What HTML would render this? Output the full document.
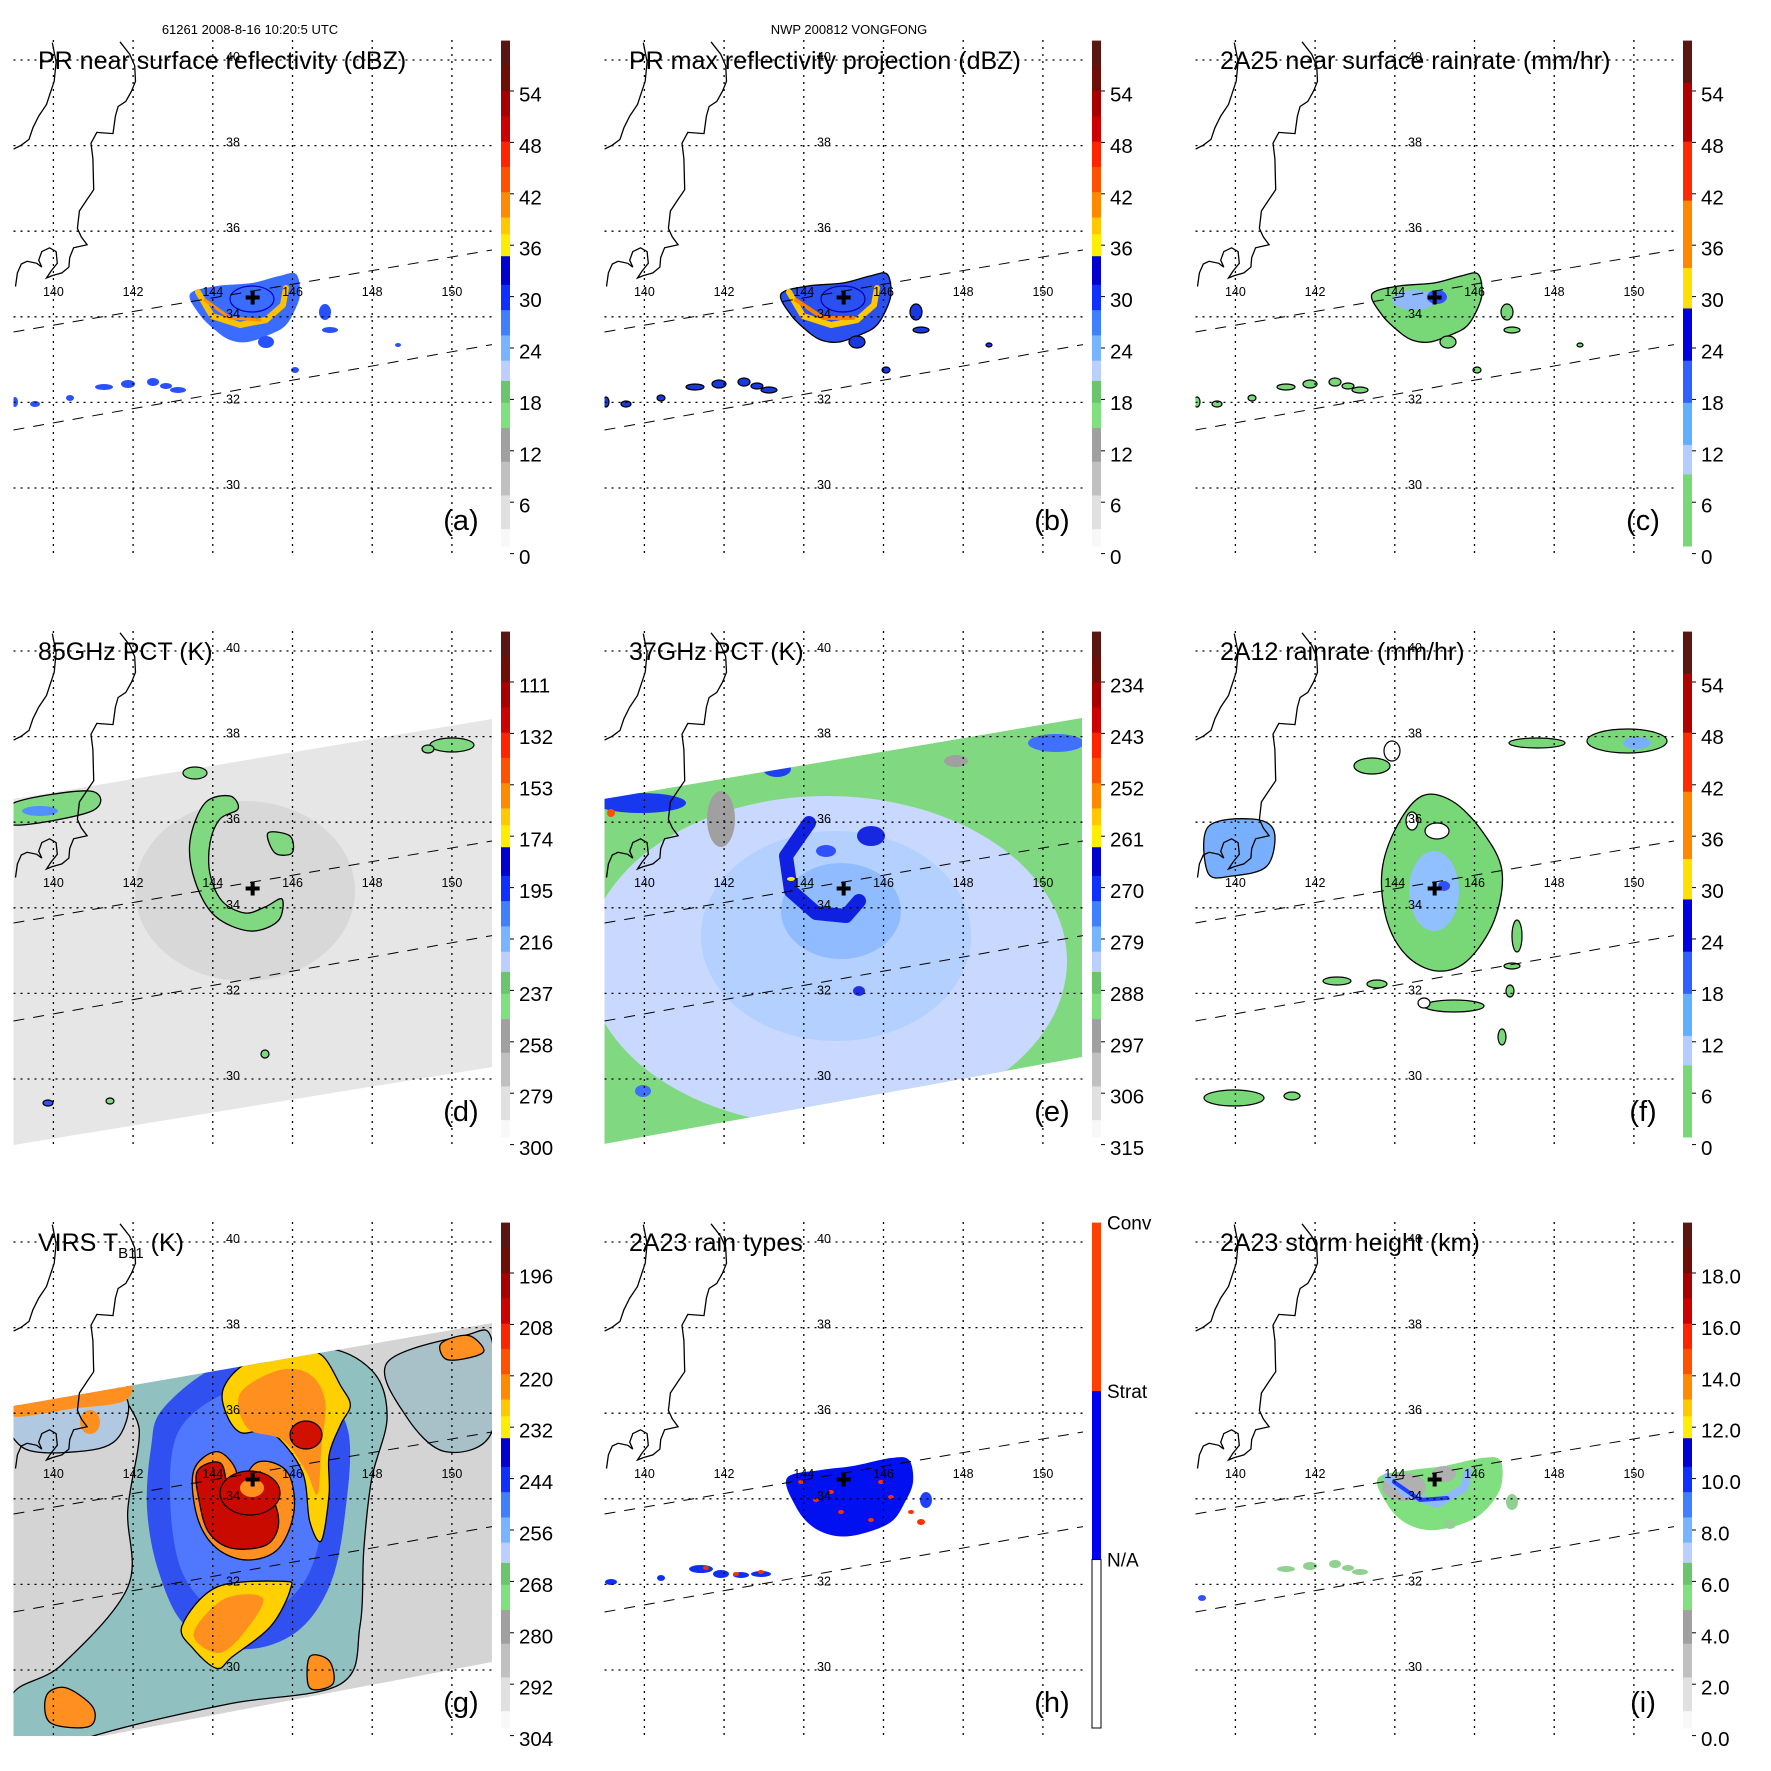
<!DOCTYPE html>
<html><head><meta charset="utf-8"><style>
html,body{margin:0;padding:0;background:#fff;}
svg{display:block;font-family:"Liberation Sans",Arial,sans-serif;}
</style></head><body>
<svg id="fig" width="1771" height="1771" viewBox="0 0 1771 1771" xmlns="http://www.w3.org/2000/svg"></svg>
<script>
// ---- data arrays ----
const panelTitles = ["PR near surface reflectivity (dBZ)","PR max reflectivity projection (dBZ)","2A25 near surface rainrate (mm/hr)","85GHz PCT (K)","37GHz PCT (K)","2A12 rainrate (mm/hr)","VIRS","2A23 rain types","2A23 storm height (km)"];
const panelLetters = ["(a)","(b)","(c)","(d)","(e)","(f)","(g)","(h)","(i)"];
const ticksA = ["0","6","12","18","24","30","36","42","48","54"];
const ticksD = ["300","279","258","237","216","195","174","153","132","111"];
const ticksE = ["315","306","297","288","279","270","261","252","243","234"];
const ticksG = ["304","292","280","268","256","244","232","220","208","196"];
const ticksI = ["0.0","2.0","4.0","6.0","8.0","10.0","12.0","14.0","16.0","18.0"];
const ticksH = ["N/A","Strat","Conv"];
const lonTicks = [140,142,144,146,148,150];
const latTicks = [40,38,36,34,32,30];
const cmapA = [[57,60,'#5a1610'],[54,57,'#6e0e08'],[51,54,'#a80000'],[48,51,'#cc0000'],[45,48,'#ff2400'],[42,45,'#ff5200'],[39,42,'#ff8a00'],[37,39,'#ffc800'],[34.4,37,'#ffee00'],[31,34.4,'#0000d0'],[28,31,'#1030ff'],[25,28,'#4080ff'],[22,25,'#78b4ff'],[19.6,22,'#bcd0ff'],[17,19.6,'#6cc46c'],[14,17,'#80e080'],[10,14,'#a0a0a0'],[6,10,'#c0c0c0'],[2,6,'#e0e0e0'],[0,2,'#f8f8f8']];
const cmapC = [[55,60,'#5a1610'],[48,55,'#b00000'],[41,48,'#ff2a00'],[33,41,'#ff8800'],[28.2,33,'#ffe000'],[22,28.2,'#0000e0'],[17,22,'#3060ff'],[12,17,'#60b0ff'],[8.5,12,'#b4ccff'],[0,8.5,'#78d878']];

const NS="http://www.w3.org/2000/svg";
const svg=document.getElementById('fig');
function el(tag,attrs,parent){const e=document.createElementNS(NS,tag);for(const k in attrs)e.setAttribute(k,attrs[k]);(parent||svg).appendChild(e);return e;}
function txt(s,attrs,parent){const e=el('text',attrs,parent);e.textContent=s;return e;}
const X=lon=>53.4+(lon-140)*39.85;
const Y=lat=>488-(lat-30)*42.8;
const BT=40.6,BB=546;
const vy=v=>BB-v*(BB-BT)/60;
function smooth(pts){let d='M'+pts[0][0]+','+pts[0][1];const n=pts.length;
 for(let i=0;i<n;i++){const p0=pts[(i-1+n)%n],p1=pts[i],p2=pts[(i+1)%n],p3=pts[(i+2)%n];
  d+=' C'+(p1[0]+(p2[0]-p0[0])/6).toFixed(1)+','+(p1[1]+(p2[1]-p0[1])/6).toFixed(1)+' '+(p2[0]-(p3[0]-p1[0])/6).toFixed(1)+','+(p2[1]-(p3[1]-p1[1])/6).toFixed(1)+' '+p2[0]+','+p2[1];}
 return d+'Z';}
function blob(g,pts,fill,stroke,name,sw){const p=el('path',{d:smooth(pts),fill:fill,stroke:stroke||'none','stroke-width':sw||1.3},g);

return p;}
function ell(g,cx,cy,rx,ry,fill,stroke,name){const e=el('ellipse',{cx:cx,cy:cy,rx:rx,ry:ry,fill:fill,stroke:stroke||'none','stroke-width':1.2},g);

return e;}
function line(g,pts,stroke,w,name){const p=el('path',{d:'M'+pts.map(p=>p.join(',')).join(' L'),fill:'none',stroke:stroke,'stroke-width':w,'stroke-linecap':'round','stroke-linejoin':'round'},g);

return p;}
const Z=(pts)=>pts.map(p=>[+(p[0]/2.583).toFixed(1),+(p[1]/2.583).toFixed(1)]);
const ZG=(pts)=>pts.map(p=>[+(p[0]/2.583).toFixed(1),+(p[1]/2.583+18).toFixed(1)]);

const coastA=Z([[135,110],[145,160],[140,210],[130,240],[120,270],[100,300],[85,330],[75,360],[55,375],[35,385]]);
const coastB=Z([[310,108],[335,140],[348,170],[350,210],[340,235],[325,262],[305,275],[298,300],[292,345],[250,342],[235,370],[240,410],[242,490],[225,515],[205,545],[200,590],[210,612],[225,632],[190,640],[180,665],[178,690],[160,705],[135,712],[120,718],[132,700],[148,680],[145,650],[128,640],[108,650],[100,672],[108,690],[95,680],[70,675],[55,682],[45,705],[40,740]]);
const swathTop=[[13.5,332],[492,250]],swathBot=[[13.5,430],[492,344.6]];
const cx0=X(145),cy0=Y(34.45);

function stormCore(g,base,stroke,ring,inner){
 blob(g,[[190,294],[217,286],[252,283],[279,276],[296,274],[300,294],[294,312],[285,326],[271,334],[248,342],[230,340],[215,330],[200,315]],base,stroke,'storm-rain-area');
 if(ring)line(g,[[198,292],[212,316],[240,325],[266,320],[283,305],[286,288]],ring,6,'ring-band');
 if(inner)ell(g,252,299,22,13,'none',inner,'eyewall');
}
function bottomBand(g,fill,stroke){
 const pts=[[104,387,9,3],[128,384,7,4],[153,382,6,4],[166,386,6,3],[178,390,8,3],[15,402,3,5],[35,404,5,3],[70,398,4,3],[266,342,8,6],[325,312,6,8],[330,330,8,3],[295,370,4,3],[398,345,3,2]];
 pts.forEach(p=>ell(g,p[0],p[1],p[2],p[3],fill,stroke,'small-rain-cell'));
}

const drawers=[
 g=>{stormCore(g,'#3a6cff',null,'#ffc000','#0000c8');line(g,[[205,300],[230,318],[260,320]],'#ff9000',3,'ring-core');bottomBand(g,'#2850ff');},
 g=>{stormCore(g,'#2a50f0','#000','#ffc800','#0000b0');line(g,[[205,300],[232,318],[262,318]],'#ff8000',4,'ring-core');bottomBand(g,'#1838e0','#000');},
 g=>{stormCore(g,'#78d878','#000',null,null);ell(g,232,300,22,10,'#90b8ff','none','rain-core');ell(g,255,297,10,7,'#3050ff','none','rain-core');bottomBand(g,'#78d878','#000');},
 g=>{const sw=el('path',{d:'M13.5,208 L492,128 L492,476 L13.5,554Z',fill:'#e6e6e6'},g);
  
  ell(g,245,300,110,90,'#d8d8d8','none','cold-area');
  blob(g,[[230,205],[205,212],[190,250],[195,290],[215,325],[250,340],[278,330],[282,308],[265,316],[245,322],[222,310],[210,283],[210,252],[220,228],[238,218]],'#80d880','#000');
  blob(g,[[268,242],[290,245],[292,262],[275,262]],'#80d880','#000');
  blob(g,[[13.5,212],[90,200],[92,220],[13.5,234]],'#80d880','#000');ell(g,40,220,18,5,'#5090ff','none');
  ell(g,195,182,12,6,'#80d880','#000');ell(g,452,154,22,7,'#80d880','#000');ell(g,428,158,6,4,'#80d880','#000');
  ell(g,48,512,5,3,'#3050ff','#000');ell(g,110,510,4,3,'#80d880','#000');ell(g,265,463,4,4,'#80d880','#000');},
 g=>{const sw=el('path',{d:'M13,208 L491,127 L491,466 L13,553Z',fill:'#80d880'},g);
  
  const cp=el('clipPath',{id:'swE'},g);el('path',{d:'M13,208 L491,127 L491,466 L13,553Z'},cp);
  const h=el('g',{'clip-path':'url(#swE)'},g);
  ell(h,236,370,240,165,'#c8d8ff');ell(h,245,345,135,105,'#b4d0ff');ell(h,250,320,60,48,'#90bcff');
  line(h,[[218,232],[195,265],[200,300],[225,322],[255,325],[268,310]],'#1020e0',14,'warm-ring');
  ell(h,280,245,14,10,'#1828e0');ell(h,235,260,10,6,'#3050ff');ell(h,268,400,6,5,'#2030e0');
  ell(h,130,228,14,28,'#a0a0a0');ell(h,365,170,12,6,'#a0a0a0');
  ell(h,50,212,45,10,'#1838f0');ell(h,186,178,14,8,'#2040f0');ell(h,465,152,28,9,'#4070ff');ell(h,20,222,4,4,'#ff5000');
  ell(h,52,500,8,6,'#4070ff');ell(h,200,288,4,2,'#ffee00');},
 g=>{blob(g,[[240,205],[270,210],[300,240],[320,280],[312,330],[285,370],[255,380],[225,365],[205,330],[200,280],[215,235]],'#78d878','#000');
  ell(g,252,300,25,40,'#90c0ff');ell(g,262,295,6,5,'#3050ff');ell(g,255,240,12,8,'#fff','#000');ell(g,230,230,6,9,'#fff','#000');
  blob(g,[[26,236],[70,228],[92,240],[85,275],[50,285],[26,282]],'#78b0ff','#000');
  ell(g,210,160,8,10,'#fff','#000');ell(g,190,175,18,8,'#78d878','#000');
  ell(g,355,152,28,5,'#78d878','#000');ell(g,445,150,40,12,'#78d878','#000');ell(g,455,152,14,6,'#78b0ff');
  ell(g,335,345,5,16,'#78d878','#000');ell(g,330,375,8,3,'#78d878','#000');ell(g,328,400,4,6,'#78d878','#000');
  ell(g,272,415,30,6,'#78d878','#000');ell(g,242,412,6,5,'#fff','#000');ell(g,155,390,14,4,'#78d878','#000');ell(g,195,393,10,4,'#78d878','#000');
  ell(g,52,507,30,8,'#78d878','#000');ell(g,110,505,8,4,'#78d878','#000');ell(g,320,446,4,8,'#78d878','#000');},
 g=>{const sw=el('path',{d:'M13.5,224 L492,141 L492,480 L13.5,571Z',fill:'#d4d4d4'},g);
  
  const cp=el('clipPath',{id:'swG'},g);el('path',{d:'M13.5,224 L492,141 L492,480 L13.5,571Z'},cp);
  const h=el('g',{'clip-path':'url(#swG)'},g);
  blob(h,ZG([[330,480],[550,420],[820,380],[960,440],[1000,560],[960,720],[940,900],[930,1100],[880,1250],[600,1300],[330,1360],[120,1420],[30,1440],[30,1280],[160,1200],[330,1000],[330,800],[360,600]]),'#90c0c0','#000');
  blob(h,ZG([[30,540],[250,470],[330,520],[300,620],[200,650],[60,640]]),'#b0c8e0','#000');
  blob(h,ZG([[1000,420],[1200,350],[1270,360],[1270,600],[1150,650],[1050,560]]),'#a8c0c8','#000');
  blob(h,ZG([[420,540],[560,430],[700,420],[820,480],[900,600],[890,820],[850,1000],[760,1120],[620,1160],[480,1100],[410,960],[380,800],[390,640]]),'#3050f0');
  blob(h,ZG([[460,600],[580,500],[720,480],[820,560],[840,760],[800,960],[700,1060],[560,1060],[470,960],[440,780]]),'#5078ff');
  blob(h,ZG([[580,480],[640,420],[760,390],[830,400],[880,480],[905,530],[880,580],[850,660],[850,760],[830,880],[800,830],[780,700],[700,600],[620,600],[580,540]]),'#ffd000','#000');
  blob(h,ZG([[620,500],[720,440],[800,450],[840,520],[830,640],[820,760],[790,700],[730,620],[640,590]]),'#ff9020');
  blob(h,ZG([[500,700],[560,650],[610,700],[600,780],[660,680],[740,700],[760,800],[720,900],[640,930],[560,900],[510,820]]),'#ff9020','#000');
  blob(h,ZG([[510,700],[570,680],[590,760],[610,800],[690,760],[720,830],[690,890],[600,900],[540,860],[515,780]]),'#c80a00','#000');
  ell(h,250,311,30,22,'#c80a00','#000');ell(h,252,306,12,9,'#ff9020');ell(h,306,253,16,14,'#d01000','#000');
  blob(h,ZG([[470,1100],[560,1000],[730,985],[750,1005],[700,1100],[600,1180],[560,1210],[500,1160]]),'#ffd000','#000');
  blob(h,ZG([[500,1120],[580,1030],[680,1030],[620,1130],[560,1170]]),'#ff9020');
  blob(h,ZG([[40,530],[200,490],[330,470],[320,520],[180,540],[40,560]]),'#ff9020');
  blob(h,ZG([[1140,370],[1210,350],[1250,390],[1200,410],[1150,410]]),'#ff9020','#000');
  blob(h,ZG([[120,1280],[170,1260],[240,1310],[230,1360],[130,1350]]),'#ff9020','#000');
  blob(h,ZG([[800,1180],[850,1190],[860,1250],[800,1260]]),'#ff9020','#000');
  ell(h,90,240,10,12,'#ff9020');},
 g=>{blob(g,[[196,296],[230,288],[262,284],[300,276],[318,278],[322,300],[314,320],[300,340],[270,352],[245,354],[222,345],[205,325]],'#0010f0',null,'storm-rain-area');
  [[210,300],[225,318],[250,330],[290,300],[300,315],[280,338],[240,310],[320,330]].forEach(p=>ell(g,p[0],p[1],3,2,'#ff3000'));
  ell(g,335,318,6,8,'#2040ff');ell(g,330,340,4,3,'#ff3000');
  [[110,387,12,4],[130,392,8,4],[150,393,8,3],[170,392,10,3],[20,400,6,3],[70,396,4,3]].forEach(p=>ell(g,p[0],p[1],p[2],p[3],'#1030f0'));
  [[115,386],[145,392],[170,390]].forEach(p=>ell(g,p[0],p[1],3,2,'#ff3000'));},
 g=>{blob(g,[[196,296],[230,288],[262,284],[300,276],[318,278],[320,300],[312,318],[295,335],[270,345],[245,348],[222,340],[205,322]],'#80e080',null,'storm-rain-area');
  ell(g,222,305,22,14,'#b0b0b0');line(g,[[205,295],[225,312],[255,322],[282,306],[286,290]],'#90b8ff',8,'height-band');
  line(g,[[212,300],[238,318],[265,316]],'#2040ff',4,'height-core');ell(g,262,292,12,8,'#b0b0b0');
  [[104,387,9,3],[128,384,7,4],[153,382,6,4],[166,386,6,3],[178,390,8,3],[268,342,6,5],[330,320,6,8]].forEach(p=>ell(g,p[0],p[1],p[2],p[3],'#90d090'));
  ell(g,20,416,4,3,'#3050ff');}
];

const tickSets=[ticksA,ticksA,ticksA,ticksD,ticksE,ticksA,ticksG,null,ticksI];

for(let i=0;i<9;i++){
 const r=Math.floor(i/3),c=i%3;
 const P=el('g',{transform:`translate(${c*591},${r*591})`});
 
 
 const cid='clip'+i;
 const cp=el('clipPath',{id:cid},P);el('rect',{x:13.5,y:40,width:478.5,height:514},cp);
 const D=el('g',{'clip-path':`url(#${cid})`},P);
 
 
 drawers[i](D);
 [coastA,coastB].forEach(cs=>{const p=el('path',{d:'M'+cs.map(q=>q.join(',')).join(' L'),fill:'none',stroke:'#000','stroke-width':1.3},D);
  
  });
 lonTicks.forEach(lon=>{const l=el('line',{x1:X(lon),x2:X(lon),y1:40,y2:554,stroke:'#000','stroke-width':1.3,'stroke-dasharray':'2,5'},P);
  
  
  const t=txt(String(lon),{x:X(lon),y:296,'font-size':12.5,'text-anchor':'middle',fill:'#000'},P);
  
  });
 latTicks.forEach(lat=>{const l=el('line',{x1:13.5,x2:492,y1:Y(lat),y2:Y(lat),stroke:'#000','stroke-width':1.3,'stroke-dasharray':'2,5'},P);
  
  
  const t=txt(String(lat),{x:233,y:Y(lat)+1,'font-size':12.5,'text-anchor':'middle',fill:'#000'},P);
  
  });
 [swathTop,swathBot].forEach(s=>{const l=el('line',{x1:s[0][0],y1:s[0][1],x2:s[1][0],y2:s[1][1],stroke:'#000','stroke-width':1,'stroke-dasharray':'11,9'},P);
  
  });
 const cr=el('path',{d:`M${cx0-7},${cy0} h14 M${cx0},${cy0-7} v14`,stroke:'#000','stroke-width':4},P);
 
 
 let tt;
 if(i===6){tt=el('text',{x:38,y:69,'font-size':25,fill:'#000'},P);
  tt.innerHTML='VIRS T<tspan font-size="15" dy="7">B11</tspan><tspan dy="-7"> (K)</tspan>';}
 else tt=txt(panelTitles[i],{x:38,y:69,'font-size':25,fill:'#000'},P);
 
 
 const lt=txt(panelLetters[i],{x:461,y:530,'font-size':29,'text-anchor':'middle',fill:'#000'},P);
 
 
 const CB=el('g',{},P);
 
 
 if(i===7){
  const th=(BB-BT)/3;
  el('rect',{x:501,y:BT,width:9,height:th,fill:'#ff4000'},CB);
  el('rect',{x:501,y:BT+th,width:9,height:th,fill:'#0000f0'},CB);
  el('rect',{x:501,y:BT+2*th,width:9,height:th,fill:'#fff',stroke:'#000','stroke-width':1},CB);
  ticksH.forEach((s,k)=>{const t=txt(s,{x:516,y:BT+(2-k)*th+7,'font-size':19,fill:'#000'},CB);
   
   });
 } else {
  const cm=(i===2||i===5)?cmapC:cmapA;
  cm.forEach(s=>el('rect',{x:501,y:vy(s[1]),width:9,height:vy(s[0])-vy(s[1])+0.5,fill:s[2]},CB));
  tickSets[i].forEach((s,k)=>{const yc=94+(9-k)*51.4;
   el('line',{x1:510,x2:514,y1:yc-3,y2:yc-3,stroke:'#000','stroke-width':1},CB);
   const t=txt(s,{x:519,y:yc+7.5,'font-size':20.5,fill:'#000'},CB);
   
   });
 }
}
const h1=txt('61261 2008-8-16 10:20:5 UTC',{x:250,y:34,'font-size':13,'text-anchor':'middle',fill:'#000'});


const h2=txt('NWP 200812 VONGFONG',{x:849,y:34,'font-size':13,'text-anchor':'middle',fill:'#000'});


</script>
</body></html>
